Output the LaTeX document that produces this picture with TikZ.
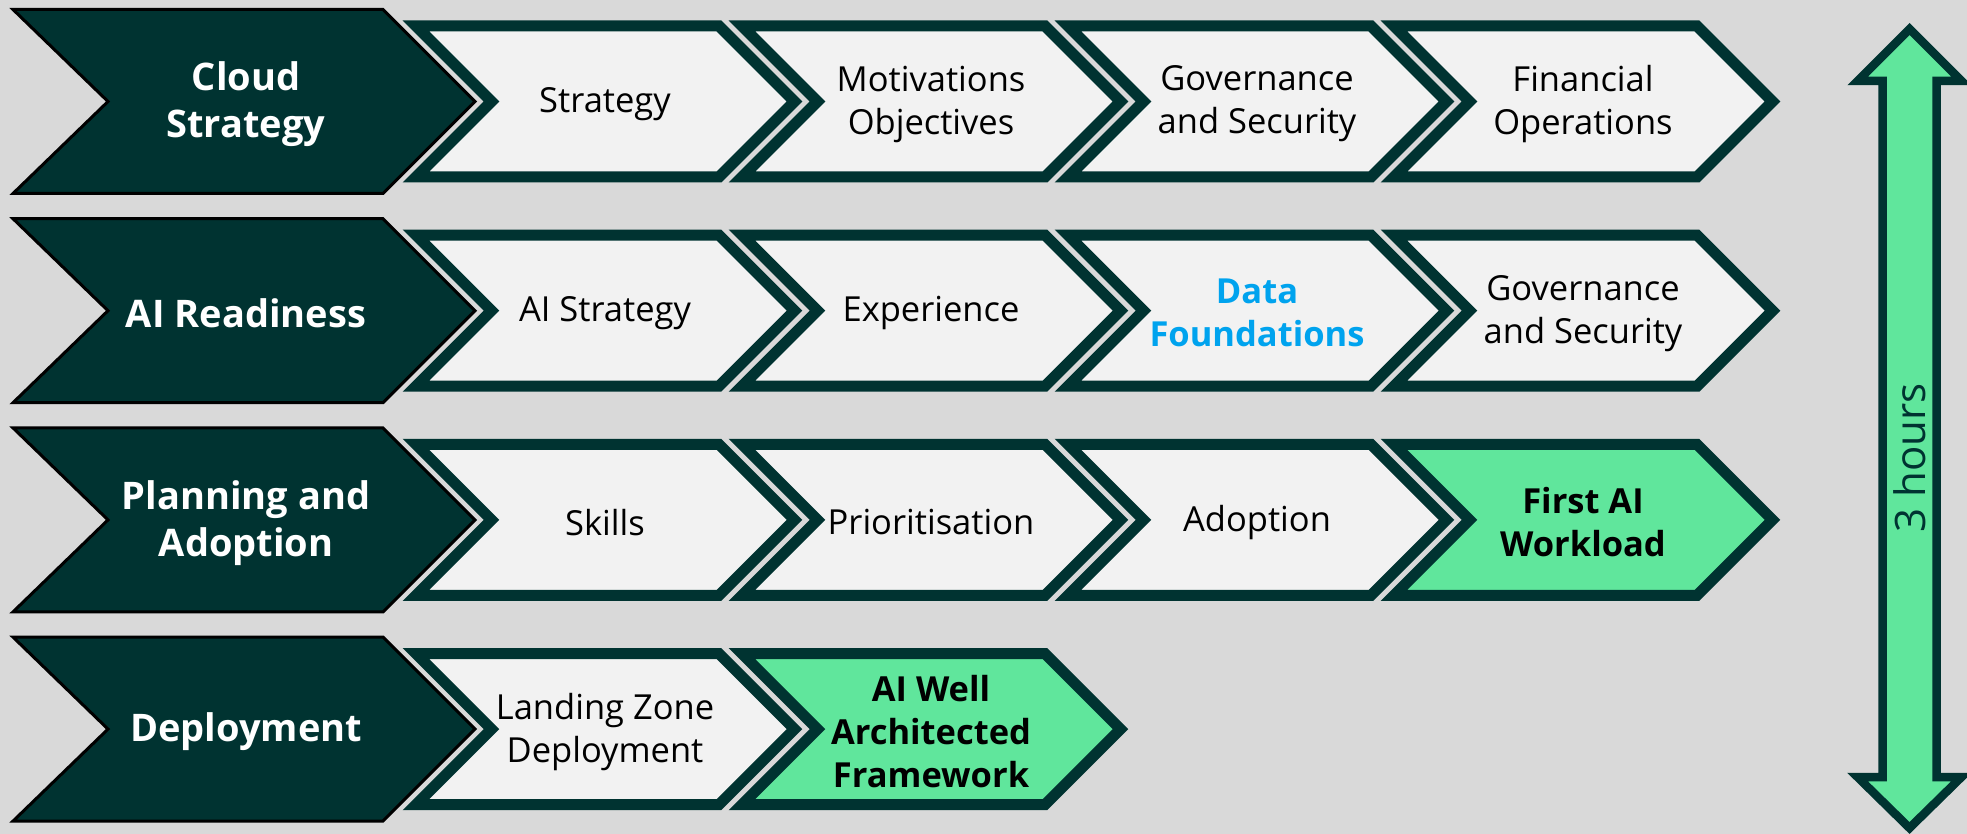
\documentclass[tikz,border=0pt]{standalone}
\usepackage{fontspec}
\setmainfont{Open Sans}
\definecolor{bg}{RGB}{217,217,217}
\definecolor{dk}{RGB}{0,51,49}
\definecolor{lt}{RGB}{242,242,242}
\definecolor{gr}{RGB}{96,230,156}
\definecolor{bl}{RGB}{0,163,238}
\tikzset{
 hdr/.style={fill=dk, draw=black, line width=3pt, line join=miter},
 chevbox/.style={draw=dk, line width=11pt, line join=miter, miter limit=10},
 hdrtext/.style={text=white, font=\fontsize{38}{47}\selectfont\bfseries, align=center, inner sep=0pt, yshift=-3pt},
 bodytext/.style={text=black, font=\fontsize{34.5}{43}\selectfont, align=center, inner sep=0pt, yshift=-2.5pt},
 boldtext/.style={text=black, font=\fontsize{34.5}{43}\selectfont\bfseries, align=center, inner sep=0pt, yshift=-2pt},
 bluetext/.style={text=bl, font=\fontsize{34.5}{43}\selectfont\bfseries, align=center, inner sep=0pt, yshift=-2pt},
 dblarrow/.style={fill=gr, draw=dk, line width=8.5pt, line join=miter},
}
\newcommand\hdrshape[3]{%
 \draw[hdr] (13,#1-92) -- (383,#1-92) -- (475,#1) -- (383,#1+92) -- (13,#1+92) -- (108,#1) -- cycle;
 \node[hdrtext] (#2) at (246,#1) {#3};
}
\newcommand\chevshape[6]{%
 \draw[chevbox, fill=#3] (#1,#2-75.5) -- (#1+303,#2-75.5) -- (#1+378.5,#2) -- (#1+303,#2+75.5) -- (#1,#2+75.5) -- (#1+75.5,#2) -- cycle;
 \node[#5] (#4) at (#1+189,#2) {#6};
}
\begin{document}
\begin{tikzpicture}[x=1pt,y=-1pt]
\clip (0,0) rectangle (1967,834);
\fill[bg] (0,0) rectangle (1967,834);
% row 1
\hdrshape{101.5}{h1}{Cloud\\Strategy}
\chevshape{416}{101.5}{lt}{r1a}{bodytext}{Strategy}
\chevshape{742}{101.5}{lt}{r1b}{bodytext}{Motivations\\Objectives}
\chevshape{1068}{101.5}{lt}{r1c}{bodytext}{Governance\\and Security}
\chevshape{1394}{101.5}{lt}{r1d}{bodytext}{Financial\\Operations}
% row 2
\hdrshape{310.7}{h2}{AI Readiness}
\chevshape{416}{310.7}{lt}{r2a}{bodytext}{AI Strategy}
\chevshape{742}{310.7}{lt}{r2b}{bodytext}{Experience}
\chevshape{1068}{310.7}{lt}{r2c}{bluetext}{Data\\Foundations}
\chevshape{1394}{310.7}{lt}{r2d}{bodytext}{Governance\\and Security}
% row 3
\hdrshape{519.9}{h3}{Planning and\\Adoption}
\chevshape{416}{519.9}{lt}{r3a}{bodytext}{Skills}
\chevshape{742}{519.9}{lt}{r3b}{bodytext}{Prioritisation}
\chevshape{1068}{519.9}{lt}{r3c}{bodytext}{Adoption}
\chevshape{1394}{519.9}{gr}{r3d}{boldtext}{First AI\\Workload}
% row 4
\hdrshape{729.1}{h4}{Deployment}
\chevshape{416}{729.1}{lt}{r4a}{bodytext}{Landing Zone\\Deployment}
\chevshape{742}{729.1}{gr}{r4b}{boldtext}{AI Well\\Architected\\Framework}
% double arrow
\draw[dblarrow] (1909.5,29) -- (1961.5,81) -- (1936.5,81) -- (1936.5,777) -- (1961.5,777) -- (1909.5,828) -- (1857.5,777) -- (1882.5,777) -- (1882.5,81) -- (1857.5,81) -- cycle;
\node[rotate=90, text=dk, font=\fontsize{42}{50}\selectfont, inner sep=0pt] (hours) at (1909.5,458) {3 hours};
\end{tikzpicture}
\end{document}
